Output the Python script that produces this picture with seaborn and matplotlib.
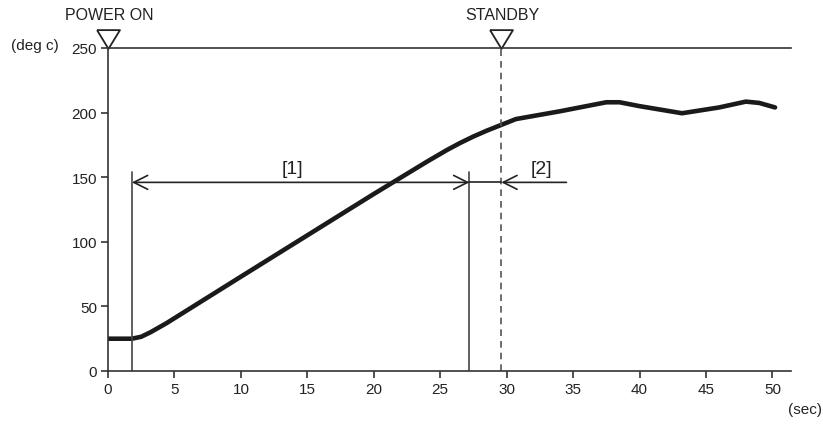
import matplotlib
matplotlib.use("Agg")
import matplotlib.pyplot as plt
import pandas as pd
import seaborn as sns

sns.set_style("ticks")
plt.rcParams["font.family"] = ["Liberation Sans", "DejaVu Sans"]

# temperature curve
time_sec = [0, 1.8, 2.5, 3.2, 4.4, 10, 15, 20, 24, 25.5, 26.5, 27.5, 28.5,
            29.6, 30.7, 34, 37.5, 38.5, 40, 43.2, 46, 48, 49, 50.2]
temp_c = [25, 25, 26.5, 30, 37, 73, 105, 137, 162, 171, 176.5, 181.5, 186,
          190.5, 195, 201, 208, 208, 205, 199.5, 204, 208.5, 207.5, 204]

x_ticks = [0, 5, 10, 15, 20, 25, 30, 35, 40, 45, 50]
y_ticks = [0, 50, 100, 150, 200, 250]

event_times = [0, 29.6]
event_labels = ["POWER ON", "STANDBY"]

period1 = (1.8, 27.2)
period2 = (29.6, 34.5)
arrow_y = 146
marker_top = 154

df = pd.DataFrame({"time": time_sec, "temp": temp_c})

fig = plt.figure(figsize=(8.23, 4.27), dpi=100)
ax = fig.add_axes([108 / 823, 1 - 372 / 427, (791 - 108) / 823, (372 - 49) / 427])

sns.lineplot(data=df, x="time", y="temp", ax=ax, color="#1a1a1a", linewidth=3.3)

axis_col = "#333333"
ax.set_xlim(0, 51.4)
ax.set_ylim(0, 250)
ax.set_xticks(x_ticks)
ax.set_yticks(y_ticks)
ax.set_xlabel("")
ax.set_ylabel("")
for side in ["left", "bottom", "top"]:
    ax.spines[side].set_color(axis_col)
    ax.spines[side].set_linewidth(1.2)
ax.spines["right"].set_visible(False)
ax.tick_params(direction="out", length=5, width=1.2, color=axis_col,
               labelsize=11, labelcolor="#222222", pad=3)

# vertical markers for period [1]
for xv in period1:
    ax.plot([xv, xv], [0, marker_top], color="#444444", linewidth=1.2)

# standby dashed line
ax.plot([event_times[1], event_times[1]], [0, 250], color="#555555",
        linewidth=1.2, linestyle=(0, (4, 3)))

# arrows
ax.annotate("", xy=(period1[1], arrow_y), xytext=(period1[0], arrow_y),
            arrowprops=dict(arrowstyle="<->,head_length=1.0,head_width=0.5",
                            color="#222222", lw=1.2, shrinkA=0, shrinkB=0))
ax.plot([period1[1], period2[0]], [arrow_y, arrow_y], color="#222222", linewidth=1.2)
ax.annotate("", xy=(period2[1], arrow_y), xytext=(period2[0], arrow_y),
            arrowprops=dict(arrowstyle="<-,head_length=1.0,head_width=0.5",
                            color="#222222", lw=1.2, shrinkA=0, shrinkB=0))
ax.text(13.9, 150, "[1]", ha="center", va="bottom", fontsize=14, color="#222222")
ax.text(32.6, 150, "[2]", ha="center", va="bottom", fontsize=14, color="#222222")

# event triangles
tri = [(-11, 9), (11, 9), (0, -9), (-11, 9)]
for t, lab in zip(event_times, event_labels):
    ax.plot([t], [257], marker=tri, markersize=16.5, markerfacecolor="white",
            markeredgecolor="#222222", markeredgewidth=1.3, clip_on=False)
    ax.text(t + 0.1, 276, lab, ha="center", va="center", fontsize=11.5,
            color="#222222", clip_on=False)

fig.text(35 / 823, 1 - 46 / 427, "(deg c)", ha="center", va="center",
         fontsize=11, color="#222222")
fig.text(805 / 823, 1 - 410 / 427, "(sec)", ha="center", va="center",
         fontsize=11, color="#222222")

fig.savefig("out.png", dpi=100)
plt.close(fig)
